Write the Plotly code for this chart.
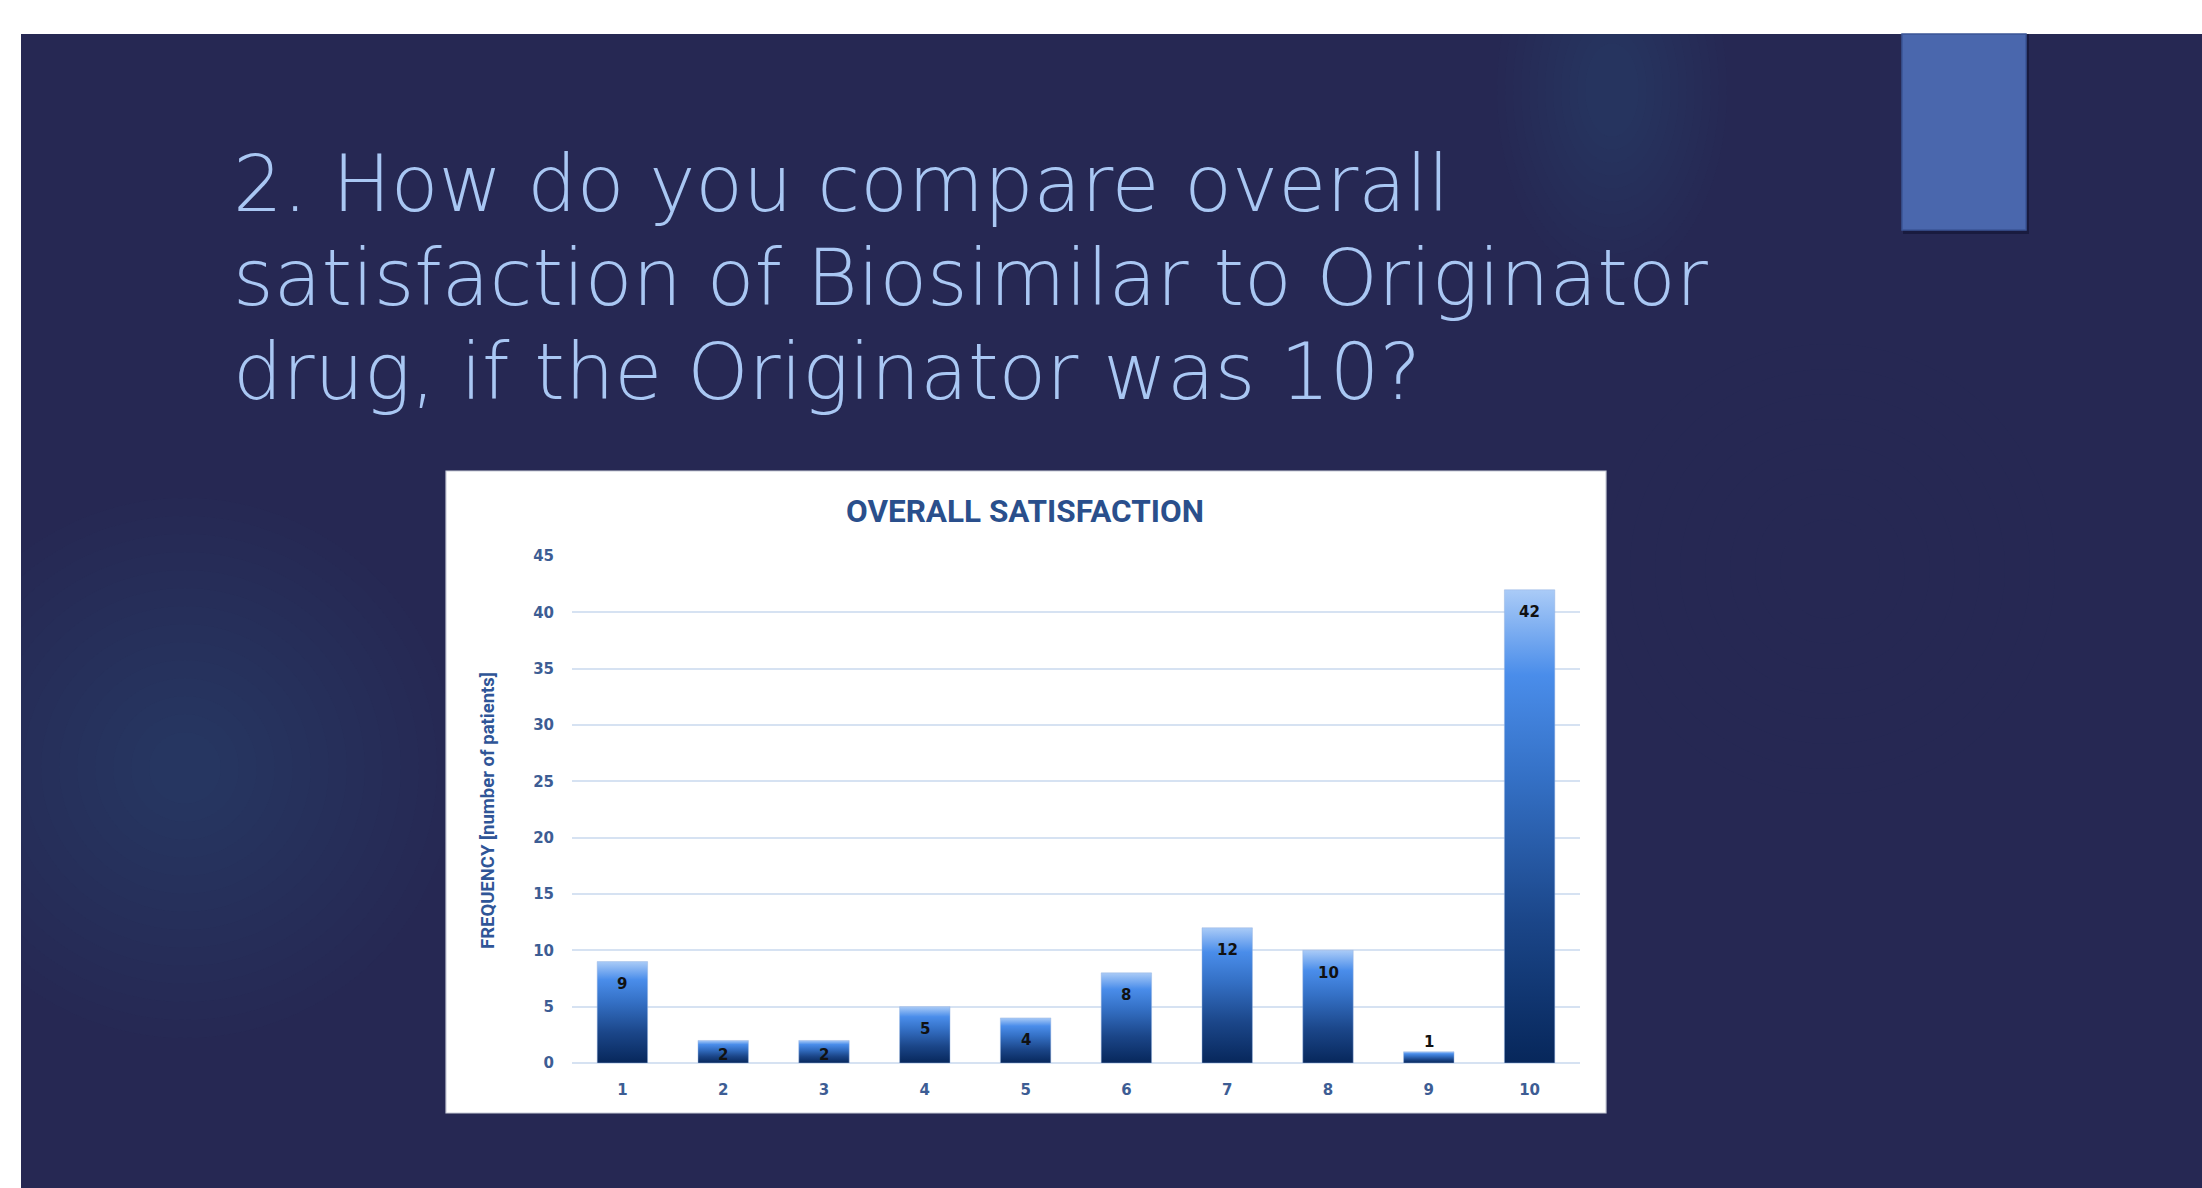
import plotly.graph_objects as go

# ---------------- data ----------------
categories = ["1", "2", "3", "4", "5", "6", "7", "8", "9", "10"]
frequency = [9, 2, 2, 5, 4, 8, 12, 10, 1, 42]
y_ticks = [0, 5, 10, 15, 20, 25, 30, 35, 40, 45]
slide_title = ["2. How do you compare overall",
               "satisfaction of Biosimilar to Originator",
               "drug, if the Originator was 10?"]
chart_title = "OVERALL SATISFACTION"
y_title = "FREQUENCY [number of patients]"

# ---------------- geometry helpers (pixels -> paper) ----------------
W, H = 2202, 1188
def xp(px):
    return px / W
def yp(py):
    return 1 - py / H

PLOT_L, PLOT_R = 572, 1580
PLOT_T, PLOT_B = 556, 1063
YMAX = 45
ppu = (PLOT_B - PLOT_T) / YMAX  # pixels per unit

grad = [[0.0, "#07275B"], [0.3, "#1B4689"], [0.6, "#3470C5"],
        [0.82, "#4A8DEA"], [1.0, "#AACBF7"]]

fig = go.Figure()

half = 0.25
for i, v in enumerate(frequency):
    fig.add_trace(go.Scatter(
        x=[i - half, i + half, i + half, i - half, i - half],
        y=[0, 0, v, v, 0],
        mode="lines", fill="toself",
        line=dict(width=0.8, color="rgba(150,180,225,0.6)"),
        fillgradient=dict(type="vertical", colorscale=grad, start=0, stop=v),
        hoverinfo="skip", showlegend=False,
    ))

# data labels
annotations = []
for i, v in enumerate(frequency):
    if v >= 4:
        ly = v - 22.5 / ppu
    elif v >= 2:
        ly = 8 / ppu
    else:
        ly = v + 10 / ppu
    annotations.append(dict(
        x=i, y=ly, xref="x", yref="y", text=str(v), showarrow=False,
        xanchor="center", yanchor="middle",
        font=dict(family="DejaVu Sans", size=15, color="#111111", weight="bold"),
    ))

# slide title lines
baselines = [211, 305, 399]
TSIZE = 78
for line, b in zip(slide_title, baselines):
    annotations.append(dict(
        x=xp(231), y=yp(b - 0.346 * TSIZE), xref="paper", yref="paper",
        text=line, showarrow=False, xanchor="left", yanchor="middle",
        font=dict(family="DejaVu Sans", size=TSIZE, color="#A9C7F3", weight=200),
    ))

# chart title
annotations.append(dict(
    x=xp(1025), y=yp(511), xref="paper", yref="paper", text=chart_title,
    showarrow=False, xanchor="center", yanchor="middle",
    font=dict(family="Roboto", size=31.5, color="#2A4F8C", weight="bold"),
))

# y axis title
annotations.append(dict(
    x=xp(488), y=yp(811), xref="paper", yref="paper", text=y_title,
    showarrow=False, xanchor="center", yanchor="middle", textangle=-90,
    font=dict(family="Roboto", size=18.5, color="#2F5597", weight="bold"),
))

shapes = [
    dict(type="rect", xref="paper", yref="paper", x0=0, x1=1, y0=0, y1=1,
         fillcolor="#262853", line=dict(width=0), layer="below"),
]
for k in range(14):
    r = 270 - k * 18
    shapes.append(dict(type="circle", xref="paper", yref="paper",
                       x0=xp(185 - r), x1=xp(185 + r), y0=yp(768 + r), y1=yp(768 - r),
                       fillcolor="rgba(50,85,130,0.03)", line=dict(width=0), layer="below"))
for k in range(12):
    rx = 115 - k * 8
    ry = 190 - k * 13
    shapes.append(dict(type="circle", xref="paper", yref="paper",
                       x0=xp(1612 - rx), x1=xp(1612 + rx), y0=yp(90 + ry), y1=yp(90 - ry),
                       fillcolor="rgba(50,85,130,0.03)", line=dict(width=0), layer="below"))
for k in range(8):
    r = 225 - k * 25
    shapes.append(dict(type="circle", xref="paper", yref="paper",
                       x0=xp(1830 - r), x1=xp(1830 + r), y0=yp(569 + r), y1=yp(569 - r),
                       fillcolor="rgba(45,50,100,0.05)", line=dict(width=0), layer="below"))
shapes += [
    dict(type="rect", xref="paper", yref="paper", x0=0, x1=1, y0=yp(34), y1=1.05,
         fillcolor="#FFFFFF", line=dict(width=0), layer="below"),
    dict(type="rect", xref="paper", yref="paper", x0=-0.05, x1=xp(21), y0=0, y1=1.05,
         fillcolor="#FFFFFF", line=dict(width=0), layer="below"),
    dict(type="rect", xref="paper", yref="paper", x0=xp(1903), x1=xp(2029), y0=yp(234), y1=yp(34),
         fillcolor="rgba(10,12,40,0.45)", line=dict(width=0), layer="below"),
    dict(type="rect", xref="paper", yref="paper", x0=xp(1902), x1=xp(2026), y0=yp(230), y1=yp(34),
         fillcolor="#4A67AD", line=dict(width=1.5, color="#3B5596"), layer="below"),
    dict(type="rect", xref="paper", yref="paper", x0=xp(446), x1=xp(1606), y0=yp(1113), y1=yp(471),
         fillcolor="#FFFFFF", line=dict(width=1.2, color="#C8CCD8"), layer="below"),
]

fig.update_layout(
    width=W, height=H, autosize=False,
    margin=dict(l=0, r=0, t=0, b=0, pad=0, autoexpand=False),
    paper_bgcolor="#FFFFFF", plot_bgcolor="rgba(0,0,0,0)",
    showlegend=False,
    shapes=shapes, annotations=annotations,
    xaxis=dict(domain=[xp(PLOT_L), xp(PLOT_R)], range=[-0.5, 9.5],
               tickmode="array", tickvals=list(range(len(categories))), ticktext=categories,
               showgrid=False, zeroline=False, showline=False, automargin=False,
               ticks="outside", ticklen=13, tickcolor="rgba(0,0,0,0)",
               tickfont=dict(family="DejaVu Sans", size=15, color="#3D5D94", weight="bold"),
               fixedrange=True),
    yaxis=dict(domain=[yp(PLOT_B), yp(PLOT_T)], range=[0, YMAX],
               tickmode="array", tickvals=y_ticks,
               showgrid=True, gridcolor="#D6E2F2", gridwidth=1.5,
               zeroline=True, zerolinecolor="#D6E2F2", zerolinewidth=1.5,
               showline=False, automargin=False,
               ticks="outside", ticklen=14, tickcolor="rgba(0,0,0,0)",
               tickfont=dict(family="DejaVu Sans", size=15, color="#3D5D94", weight="bold"),
               fixedrange=True),
)

post = (
    "document.documentElement.style.margin='0';"
    "document.body.style.margin='0';"
    "document.body.style.overflow='hidden';"
    "var gd=document.getElementById('{plot_id}');"
    "gd.style.position='fixed';gd.style.left='0px';gd.style.top='0px';"
)
fig.write_html("out.html", post_script=post,
               config={"responsive": False, "displayModeBar": False})
